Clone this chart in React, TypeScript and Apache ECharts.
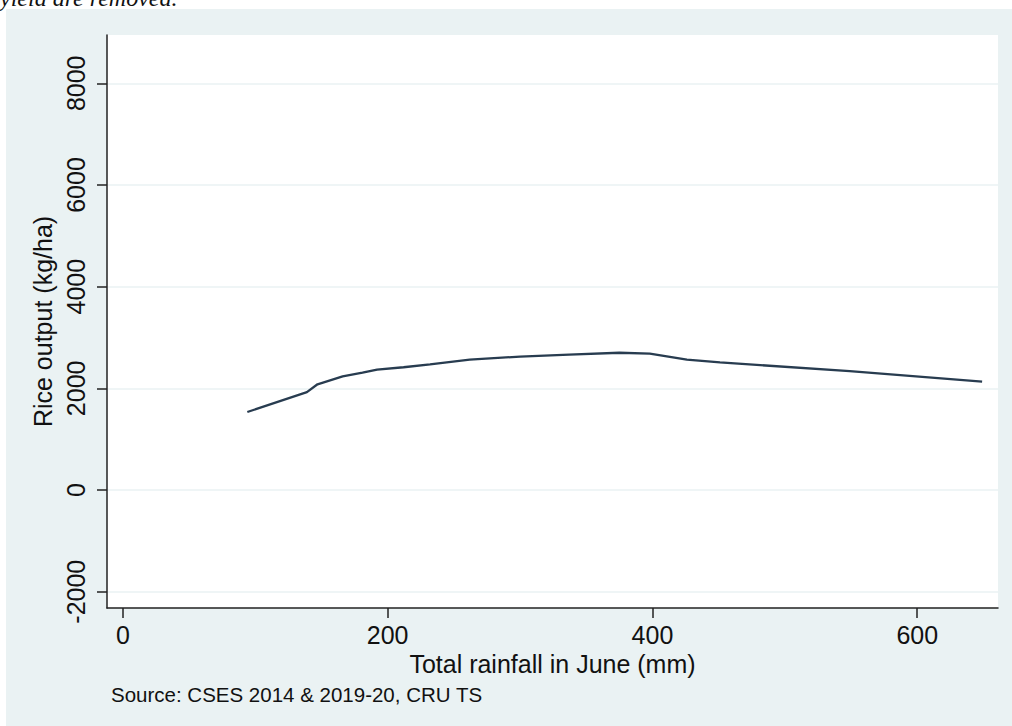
import React, { useEffect, useRef } from "react";
import * as echarts from "echarts";

const rainfall = [94, 139, 147, 166, 181, 192, 212, 232, 262, 300, 337, 375, 398, 426, 451, 549, 649];
const riceOutput = [1535, 1925, 2080, 2235, 2308, 2370, 2415, 2470, 2565, 2625, 2665, 2700, 2685, 2565, 2510, 2340, 2131];
const xTicks = [0, 200, 400, 600];
const yTicks = [-2000, 0, 2000, 4000, 6000, 8000];

export default function App() {
  const ref = useRef<HTMLDivElement>(null);
  useEffect(() => {
    if (!ref.current) return;
    const chart = echarts.init(ref.current, null, { renderer: "svg" });
    const font = "'Liberation Sans', Arial, Helvetica, sans-serif";
    chart.setOption({
      animation: false,
      backgroundColor: "#ffffff",
      graphic: [
        { type: "rect", z: -10, shape: { x: 6, y: 9, width: 1010, height: 720 }, style: { fill: "#eaf2f3" } },
        { type: "text", x: 0, y: -14, style: { text: "yield are removed.", font: "italic 24px 'Liberation Serif', serif", fill: "#111", textVerticalAlign: "top" } },
        { type: "text", x: 111, y: 694, style: { text: "Source: CSES 2014 & 2019-20, CRU TS", font: "20.5px " + font, fill: "#111", textVerticalAlign: "middle" } },
      ],
      grid: { left: 107, top: 35, right: 14, bottom: 118, show: true, backgroundColor: "#ffffff", borderWidth: 0 },
      xAxis: {
        type: "value",
        min: -12,
        max: 661,
        name: "Total rainfall in June (mm)",
        nameLocation: "middle",
        nameGap: 41,
        nameTextStyle: { fontFamily: font, fontSize: 25, color: "#111" },
        axisLine: { show: true, onZero: false, lineStyle: { color: "#222", width: 1.5 } },
        axisTick: { show: true, length: 10, customValues: xTicks, lineStyle: { color: "#222", width: 1.5 } },
        axisLabel: { customValues: xTicks, fontFamily: font, fontSize: 25, color: "#111", margin: 14, formatter: (v: number) => String(v) },
        splitLine: { show: false },
      },
      yAxis: {
        type: "value",
        min: -2320,
        max: 8950,
        name: "Rice output (kg/ha)",
        nameLocation: "middle",
        nameRotate: 90,
        nameGap: 50,
        nameTextStyle: { fontFamily: font, fontSize: 25, color: "#111" },
        axisLine: { show: true, onZero: false, lineStyle: { color: "#222", width: 1.5 } },
        axisTick: { show: true, length: 10, customValues: yTicks, lineStyle: { color: "#222", width: 1.5 } },
        axisLabel: { customValues: yTicks, rotate: 90, fontFamily: font, fontSize: 25, color: "#111", margin: 19, formatter: (v: number) => String(v) },
        splitLine: { show: true, lineStyle: { color: "#eaf2f3", width: 1.5 } },
      },
      series: [
        {
          type: "line",
          data: rainfall.map((x, i) => [x, riceOutput[i]]),
          showSymbol: false,
          lineStyle: { color: "#283c50", width: 2.3 },
        },
      ],
    });
    return () => chart.dispose();
  }, []);
  return <div ref={ref} style={{ position: "fixed", left: 0, top: 0, width: 1012, height: 726 }} />;
}
